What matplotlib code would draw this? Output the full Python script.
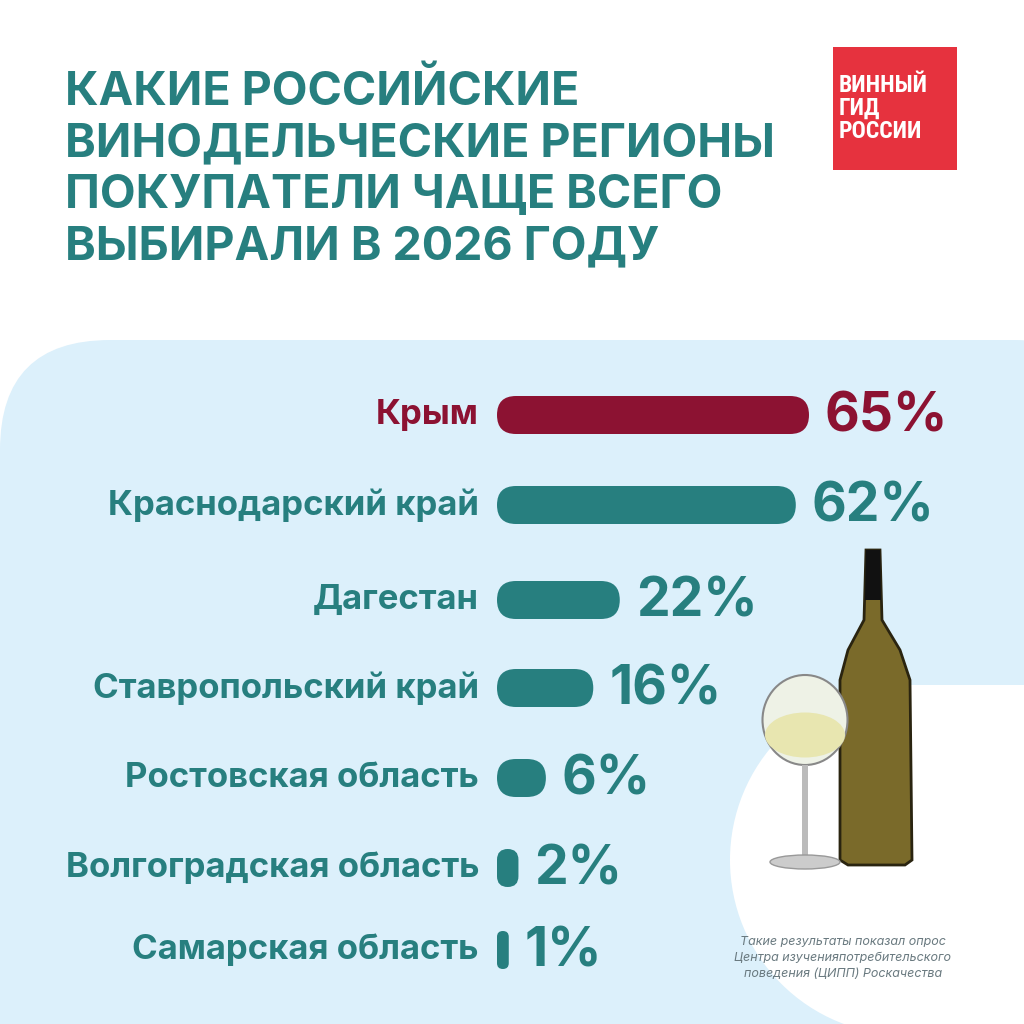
import matplotlib
matplotlib.use("Agg")
import numpy as np
import matplotlib.pyplot as plt
from matplotlib.patches import FancyBboxPatch, Circle, Polygon, Ellipse, Rectangle

regions = ["Крым", "Краснодарский край", "Дагестан", "Ставропольский край",
           "Ростовская область", "Волгоградская область", "Самарская область"]
values = [65, 62, 22, 16, 6, 2, 1]
title = "КАКИЕ РОССИЙСКИЕ\nВИНОДЕЛЬЧЕСКИЕ РЕГИОНЫ\nПОКУПАТЕЛИ ЧАЩЕ ВСЕГО\nВЫБИРАЛИ В 2026 ГОДУ"
note = "Такие результаты показал опрос\nЦентра изученияпотребительского\nповедения (ЦИПП) Роскачества"

TEAL = "#277f7f"
RED = "#8c1232"
BG = "#dcf0fb"

fig = plt.figure(figsize=(10.24, 10.24), dpi=100)
ax = fig.add_axes([0, 0, 1, 1])
ax.set_xlim(0, 1024); ax.set_ylim(1024, 0); ax.axis("off")
plt.rcParams['font.family'] = ['Inter', 'DejaVu Sans']

ax.add_patch(FancyBboxPatch((0, 340), 1124, 800, boxstyle="round,pad=0,rounding_size=110",
                            fc=BG, ec="none", zorder=0))
ax.add_patch(Circle((905, 860), 175, fc="white", ec="none", zorder=1))
ax.add_patch(Rectangle((905, 700), 200, 400, fc=BG, ec="none", zorder=1))
ax.add_patch(Rectangle((905, 685), 200, 400, fc="white", ec="none", zorder=1))

ax.text(65, 170, title, fontsize=33.5, fontweight="bold", color=TEAL, va="center",
        ha="left", linespacing=1.22)

ax.add_patch(Rectangle((833, 47), 124, 123, fc="#e6323e", ec="none", zorder=2))
ax.text(839, 108, "ВИННЫЙ\nГИД\nРОССИИ", fontsize=17, fontweight="bold", color="white",
        va="center", ha="left", linespacing=1.0, zorder=3,
        family=["Roboto Condensed", "Liberation Sans Narrow", "DejaVu Sans"])

x0, h = 497, 38
ys = [415, 505, 600, 688, 778, 868, 950]
for i, (r, v) in enumerate(zip(regions, values)):
    y = ys[i]
    col = RED if i == 0 else TEAL
    w = 4.4 * v + 26 * (1 - np.exp(-v / 3))
    ax.add_patch(FancyBboxPatch((x0, y - h / 2), w, h,
                                boxstyle=f"round,pad=0,rounding_size={min(h/2, w/2)}",
                                fc=col, ec="none", zorder=3))
    ax.text(x0 - 18, y, r, fontsize=25, fontweight="bold", color=col, ha="right", va="center", zorder=4)
    ax.text(x0 + w + 16, y + 2, f"{v}%", fontsize=38.5, fontweight="bold", color=col,
            ha="left", va="center", zorder=4)

bottle = Polygon([(866, 550), (880, 550), (882, 620), (900, 650), (910, 680), (912, 860),
                  (905, 865), (848, 865), (840, 860), (840, 680), (848, 650), (864, 620)],
                 closed=True, fc="#7a6a2a", ec="#2a2410", lw=2, zorder=5)
ax.add_patch(bottle)
ax.add_patch(Polygon([(866, 550), (880, 550), (881, 600), (865, 600)], fc="#111", zorder=6))
ax.add_patch(Ellipse((805, 720), 85, 90, fc="#eef2e6", ec="#888", lw=1.5, zorder=7))
ax.add_patch(Ellipse((805, 735), 80, 45, fc="#e8e6b0", ec="none", zorder=7))
ax.add_patch(Rectangle((802, 765), 6, 95, fc="#bbb", zorder=7))
ax.add_patch(Ellipse((805, 862), 70, 14, fc="#ccc", ec="#999", zorder=7))

ax.text(843, 958, note, fontsize=9, style="italic", color="#6a7a80", ha="center", va="center",
        linespacing=1.4, zorder=4)

fig.savefig("out.png", dpi=100, facecolor="white")
